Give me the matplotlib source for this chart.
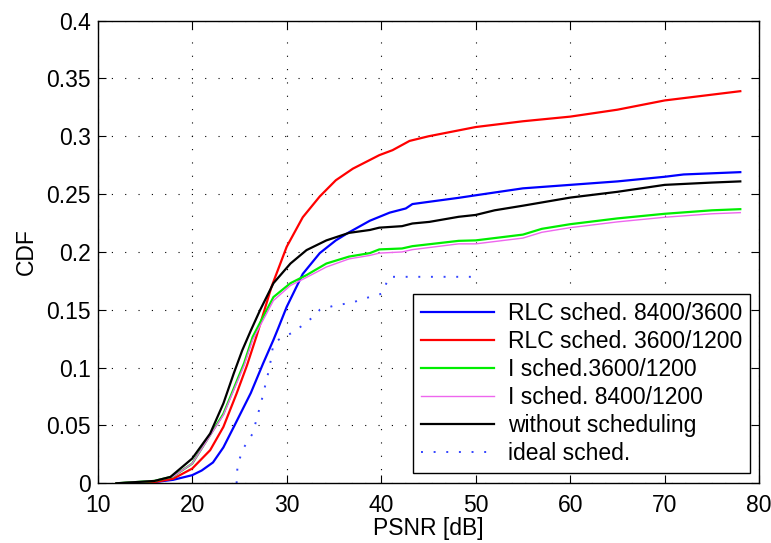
import matplotlib

matplotlib.use("Agg")
import matplotlib.pyplot as plt

# CDF of PSNR per scheduling scheme
x_rlc_8400 = [12, 16, 18, 20, 21, 22.2, 23.3, 24.4, 26.2, 27.5, 28.6, 29.1, 30, 31.7, 33.5, 35.2, 36.6,
              38.8, 40.9, 42.6, 43.3, 45.1, 48.2, 50, 55, 60, 65, 70, 72, 75, 78]
y_rlc_8400 = [0, 0.001, 0.003, 0.007, 0.011, 0.018, 0.031, 0.0487, 0.078, 0.1035, 0.124, 0.134,
              0.1525, 0.181, 0.199, 0.210, 0.217, 0.227, 0.234, 0.2376, 0.2414, 0.2434, 0.2468,
              0.249, 0.255, 0.258, 0.261, 0.265, 0.267, 0.268, 0.269]

x_rlc_3600 = [12, 14, 16, 18, 20, 21.9, 23.3, 24.7, 25.8, 26.8, 28.4, 30, 31.7, 33.5, 35.2, 37, 39.8,
              41.2, 43, 45, 50, 55, 60, 65, 70, 75, 78]
y_rlc_3600 = [0, 0.0005, 0.001, 0.004, 0.0127, 0.0286, 0.0487, 0.0776, 0.102, 0.127, 0.170, 0.2045,
              0.230, 0.248, 0.262, 0.272, 0.2837, 0.288, 0.296, 0.300, 0.308, 0.313, 0.317, 0.323,
              0.331, 0.336, 0.339]

x_i_sched = [12, 16, 18, 20, 23.3, 25.5, 26.4, 28.6, 30.4, 32.1, 34.2, 36.6, 38.8, 39.8, 42.2, 43.3,
             48.2, 50, 55, 57, 60, 65, 70, 75, 78]
y_i_3600 = [0, 0.002, 0.006, 0.017, 0.060, 0.104, 0.1266, 0.161, 0.173, 0.180, 0.190, 0.196, 0.199,
            0.2022, 0.203, 0.205, 0.2096, 0.210, 0.215, 0.220, 0.224, 0.229, 0.233, 0.236, 0.237]
y_i_8400 = [0, 0.002, 0.006, 0.017, 0.059, 0.102, 0.124, 0.158, 0.171, 0.178, 0.187, 0.194, 0.197,
            0.199, 0.200, 0.202, 0.207, 0.207, 0.212, 0.217, 0.221, 0.226, 0.230, 0.233, 0.234]

x_no_sched = [12, 16, 17.7, 20, 21.9, 23.3, 24.4, 25.3, 26.2, 27.2, 28.6, 30.4, 32.1, 34.2, 36.6, 38.8,
              39.8, 42.2, 43.3, 45.1, 48.2, 50, 52, 55, 60, 65, 70, 75, 78]
y_no_sched = [0, 0.002, 0.0055, 0.0214, 0.043, 0.069, 0.095, 0.115, 0.132, 0.150, 0.173, 0.190,
              0.2016, 0.210, 0.2165, 0.219, 0.221, 0.2223, 0.2246, 0.226, 0.2304, 0.232, 0.236,
              0.240, 0.247, 0.252, 0.258, 0.260, 0.261]

x_ideal = [24.7, 24.8, 25.4, 26.4, 27.3, 28.2, 28.6, 29.3, 30.8, 32.2, 33, 33.5, 35.2, 36.9, 37.9,
           40.1, 40.5, 40.8, 50.5]
y_ideal = [0, 0.016, 0.030, 0.043, 0.070, 0.1006, 0.121, 0.125, 0.131, 0.140, 0.145, 0.150, 0.154,
           0.156, 0.159, 0.164, 0.172, 0.1785, 0.1785]

x_ticks = [10, 20, 30, 40, 50, 60, 70, 80]
y_ticks = [0, 0.05, 0.1, 0.15, 0.2, 0.25, 0.3, 0.35, 0.4]
y_tick_labels = ["0", "0.05", "0.1", "0.15", "0.2", "0.25", "0.3", "0.35", "0.4"]

plt.rcParams["font.family"] = ["Liberation Sans", "DejaVu Sans"]
FS = 16.5

fig = plt.figure(figsize=(7.71, 5.43), dpi=100)
ax = fig.add_axes([0.1267, 0.110, 0.858, 0.852])

ax.plot(x_rlc_8400, y_rlc_8400, color="#0000ff", lw=1.6, label="RLC sched. 8400/3600")
ax.plot(x_rlc_3600, y_rlc_3600, color="#ff0000", lw=1.6, label="RLC sched. 3600/1200")
ax.plot(x_i_sched, y_i_3600, color="#00ee00", lw=1.6, label="I sched.3600/1200")
ax.plot(x_i_sched, y_i_8400, color="#ee66ee", lw=1.0, label="I sched. 8400/1200")
ax.plot(x_no_sched, y_no_sched, color="#000000", lw=1.6, label="without scheduling")
ax.plot(x_ideal, y_ideal, color="#3344ff", lw=1.4, linestyle=(0, (1, 5.5)), label="ideal sched.")

ax.set_xlim(10, 80)
ax.set_ylim(0, 0.4)
ax.set_xticks(x_ticks)
ax.set_yticks(y_ticks)
ax.set_yticklabels(y_tick_labels)
ax.tick_params(direction="in", top=True, right=True, labelsize=FS, length=6)
ax.tick_params(axis="x", pad=8)
ax.tick_params(axis="y", pad=5)
ax.grid(True, color="black", linestyle=(0, (1, 11)), linewidth=0.8)
for s in ax.spines.values():
    s.set_linewidth(1.0)

ax.set_xlabel("PSNR [dB]", fontsize=FS, labelpad=0)
ax.set_ylabel("CDF", fontsize=FS, labelpad=6)

leg = ax.legend(loc="lower right", bbox_to_anchor=(0.986, 0.022), borderaxespad=0,
                fontsize=FS, fancybox=False, edgecolor="black", framealpha=1,
                handlelength=3.2, handletextpad=0.6, labelspacing=0.22, borderpad=0.35)
leg.get_frame().set_linewidth(1.0)

fig.savefig("out.png", dpi=100)
